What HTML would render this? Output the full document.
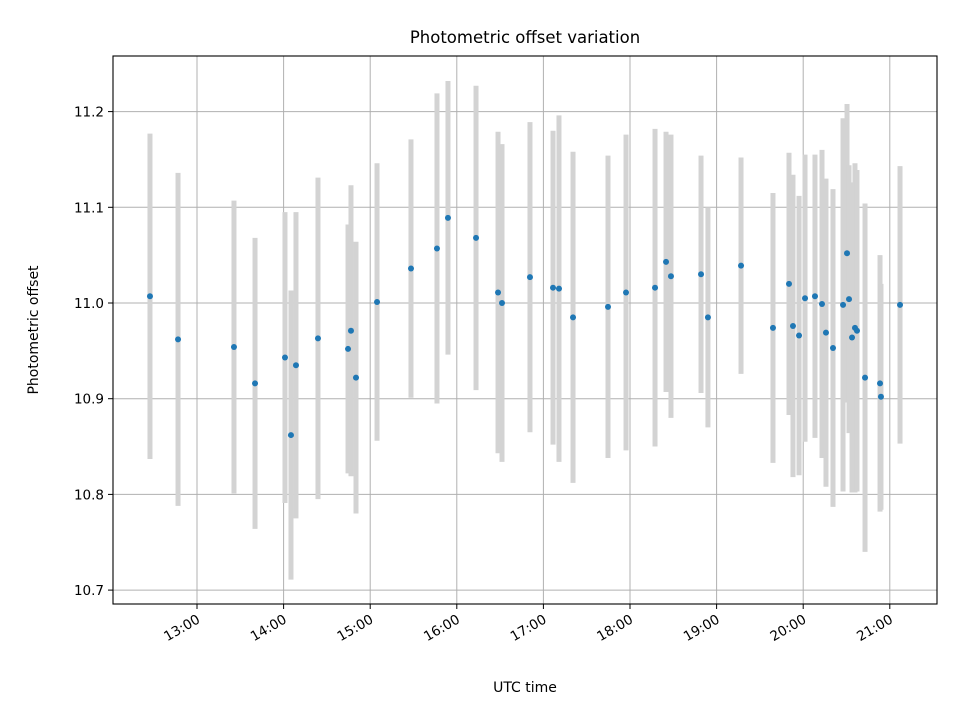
<!DOCTYPE html>
<html><head><meta charset="utf-8"><style>
body{margin:0;background:#fff;}
svg{display:block;font-family:"DejaVu Sans","Liberation Sans",sans-serif;}
</style></head><body>
<svg id="chart" width="960" height="720" xmlns="http://www.w3.org/2000/svg">
<rect width="960" height="720" fill="#fff"/>
<g id="grid"></g>
<g id="bars"></g>
<g id="points"></g>
<rect x="113" y="56" width="824" height="548" fill="none" stroke="#000" stroke-width="1.1"/>
<g id="axes"></g>
<text x="525" y="43" text-anchor="middle" font-size="16.5">Photometric offset variation</text>
<text x="525" y="692" text-anchor="middle" font-size="14">UTC time</text>
<text transform="translate(38,330) rotate(-90)" text-anchor="middle" font-size="14">Photometric offset</text>
</svg>
<script>
const times=[12.457,12.781,13.427,13.670,14.016,14.085,14.143,14.397,14.744,14.778,14.836,15.079,15.471,15.771,15.898,16.222,16.476,16.522,16.845,17.111,17.180,17.342,17.746,17.954,18.289,18.416,18.473,18.820,18.900,19.282,19.651,19.836,19.882,19.952,20.021,20.136,20.217,20.263,20.344,20.460,20.506,20.529,20.564,20.598,20.621,20.714,20.887,20.898,21.118];
const offsets=[11.007,10.962,10.954,10.916,10.943,10.862,10.935,10.963,10.952,10.971,10.922,11.001,11.036,11.057,11.089,11.068,11.011,11.000,11.027,11.016,11.015,10.985,10.996,11.011,11.016,11.043,11.028,11.030,10.985,11.039,10.974,11.020,10.976,10.966,11.005,11.007,10.999,10.969,10.953,10.998,11.052,11.004,10.964,10.974,10.971,10.922,10.916,10.902,10.998];
const errors=[0.170,0.174,0.153,0.152,0.152,0.151,0.160,0.168,0.130,0.152,0.142,0.145,0.135,0.162,0.143,0.159,0.168,0.166,0.162,0.164,0.181,0.173,0.158,0.165,0.166,0.136,0.148,0.124,0.115,0.113,0.141,0.137,0.158,0.146,0.150,0.148,0.161,0.161,0.166,0.195,0.156,0.140,0.162,0.172,0.168,0.182,0.134,0.118,0.145];
const yTicks=[10.7,10.8,10.9,11.0,11.1,11.2];
const xTicks=[13,14,15,16,17,18,19,20,21];
const xTickLabels=["13:00","14:00","15:00","16:00","17:00","18:00","19:00","20:00","21:00"];
const NS="http://www.w3.org/2000/svg";
function X(h){return 197+(h-13)*86.6;}
function Y(v){return 303-(v-11)*957;}
function mk(tag,attrs,parent){const e=document.createElementNS(NS,tag);for(const k in attrs)e.setAttribute(k,attrs[k]);parent.appendChild(e);return e;}
const grid=document.getElementById('grid'),bars=document.getElementById('bars'),pts=document.getElementById('points'),axes=document.getElementById('axes');
yTicks.forEach(t=>{
 const y=Y(t);
 const g=mk('line',{x1:113,x2:937,y1:y,y2:y,stroke:'#b0b0b0','stroke-width':1},grid);
 
 
 mk('line',{x1:108,x2:113,y1:y,y2:y,stroke:'#000'},axes);
 const tx=mk('text',{x:104,y:y+5,'text-anchor':'end','font-size':13.5},axes);
 tx.textContent=t.toFixed(1);
 
 
});
xTicks.forEach((t,i)=>{
 const x=X(t);
 const g=mk('line',{x1:x,x2:x,y1:56,y2:604,stroke:'#b0b0b0','stroke-width':1},grid);
 
 
 mk('line',{x1:x,x2:x,y1:604,y2:609,stroke:'#000'},axes);
 const tx=mk('text',{transform:`translate(${x+4},${622}) rotate(-30)`,'text-anchor':'end','font-size':13.5},axes);
 tx.textContent=xTickLabels[i];
 
 
});
times.forEach((h,i)=>{
 const x=X(h);
 const b=mk('line',{x1:x,x2:x,y1:Y(offsets[i]+errors[i]),y2:Y(offsets[i]-errors[i]),stroke:'#d3d3d3','stroke-width':5},bars);
 
 
});
times.forEach((h,i)=>{
 const c=mk('circle',{cx:X(h),cy:Y(offsets[i]),r:3,fill:'#1f77b4'},pts);
 
 
});
</script>
</body></html>
